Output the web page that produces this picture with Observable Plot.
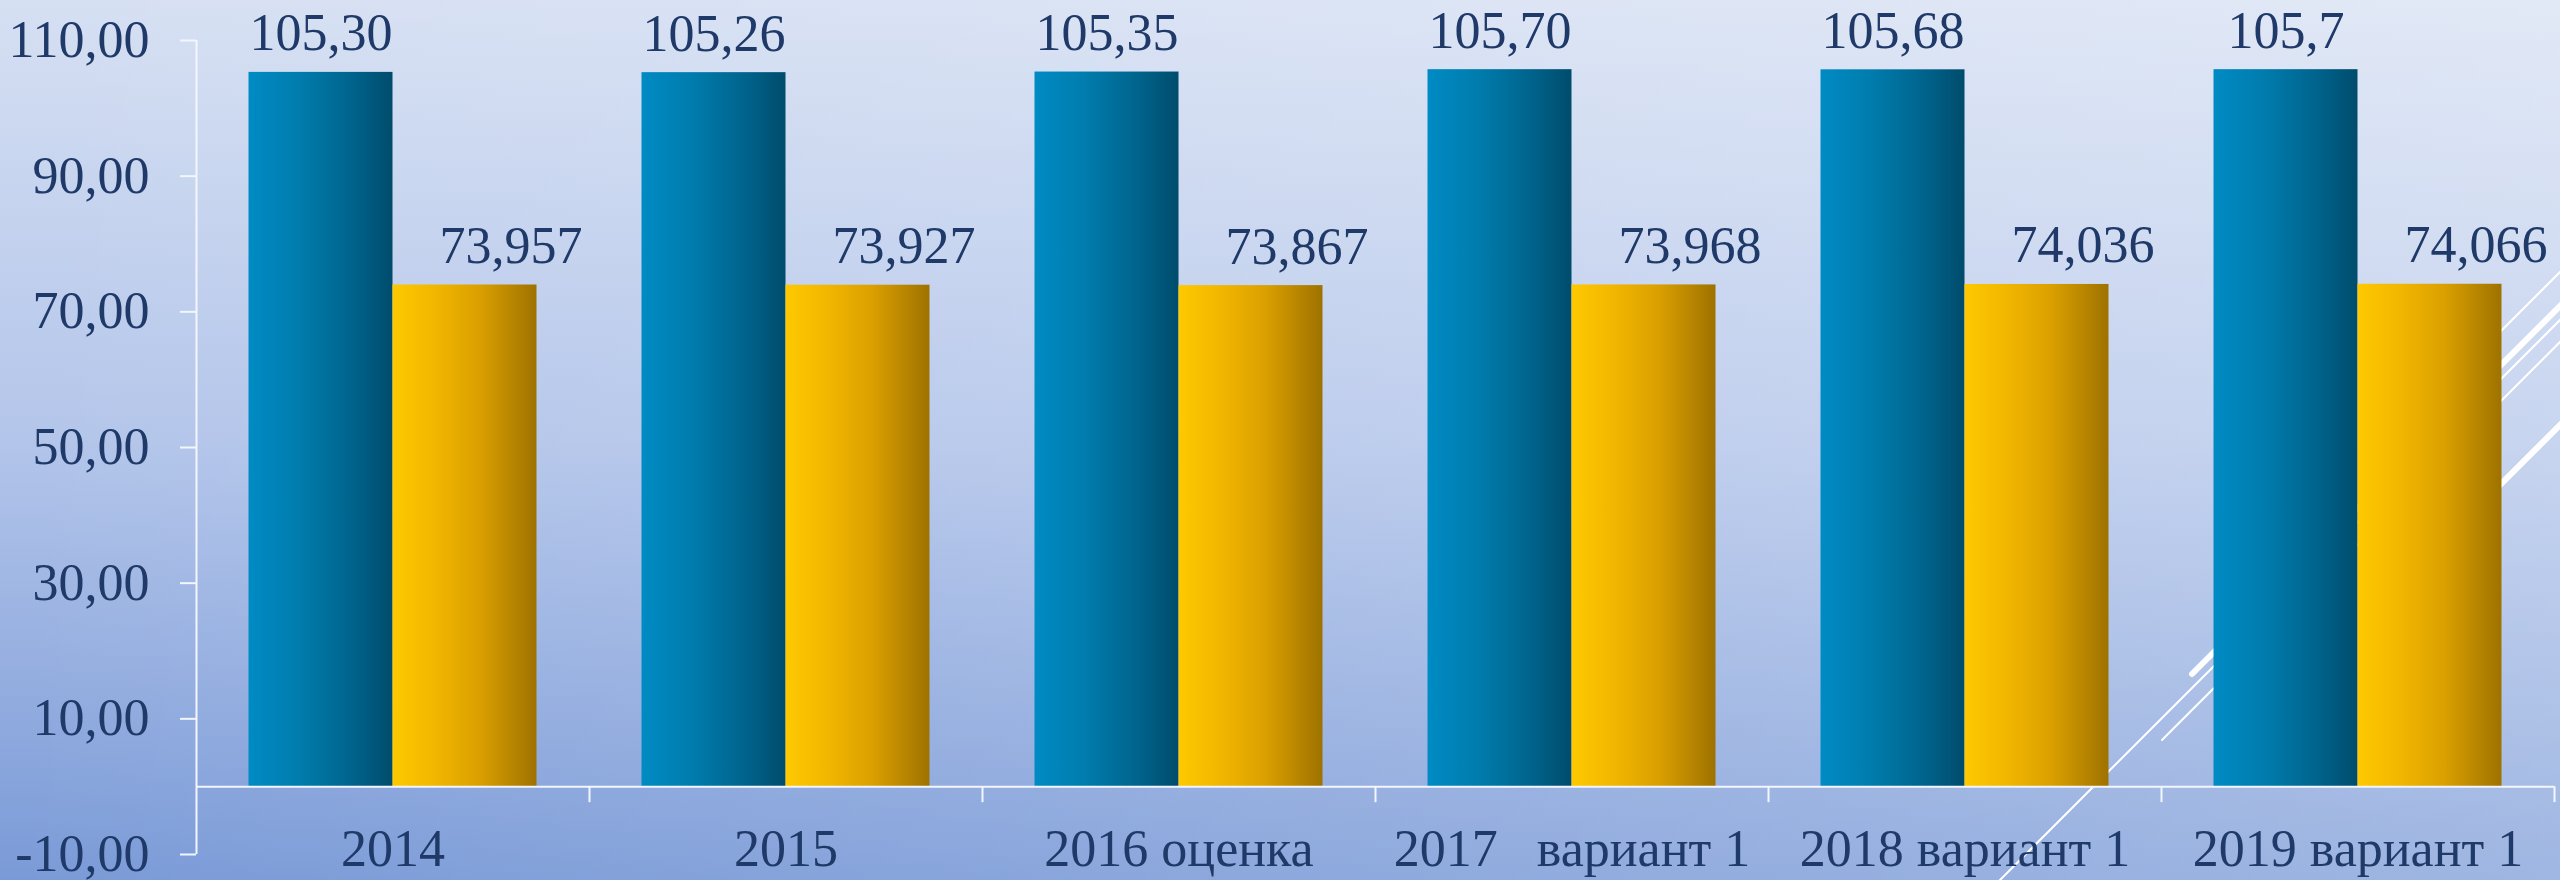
<!DOCTYPE html>
<html>
<head>
<meta charset="utf-8">
<script src="https://cdn.jsdelivr.net/npm/d3@7"></script>
<script src="https://cdn.jsdelivr.net/npm/@observablehq/plot@0.6"></script>
<style>
  html, body { margin: 0; padding: 0; background: #ffffff; }
  #wrap {
    position: relative; width: 2560px; height: 880px; overflow: hidden;
    background:
      linear-gradient(to right, rgba(255,255,255,0) 0%, rgba(255,255,255,0.28) 100%),
      linear-gradient(to bottom, #d6e0f3 0%, #b3c5ea 50%, #7a9ad7 100%);
  }
  #bg { position: absolute; left: 0; top: 0; }
  #chart { position: absolute; left: 0; top: 0; }
  #chart svg text { white-space: pre; }
</style>
</head>
<body>
<div id="wrap">
  <svg id="bg" width="2560" height="880">
    <defs>
      <linearGradient id="gBlue" x1="0" x2="1" y1="0" y2="0">
        <stop offset="0" stop-color="#008bc4"/>
        <stop offset="0.35" stop-color="#007cad"/>
        <stop offset="0.7" stop-color="#00658e"/>
        <stop offset="1" stop-color="#004c6c"/>
      </linearGradient>
      <linearGradient id="gYellow" x1="0" x2="1" y1="0" y2="0">
        <stop offset="0" stop-color="#fec900"/>
        <stop offset="0.3" stop-color="#f1b600"/>
        <stop offset="0.6" stop-color="#dba000"/>
        <stop offset="1" stop-color="#9e7200"/>
      </linearGradient>
    </defs>
    <g stroke="#ffffff" fill="none" stroke-linecap="round">
      <line x1="1990" y1="890" x2="2570" y2="310" stroke-width="2"/>
      <line x1="2162" y1="740" x2="2570" y2="332" stroke-width="2"/>
      <line x1="2192" y1="674" x2="2570" y2="296" stroke-width="6"/>
      <line x1="2380" y1="452" x2="2570" y2="262" stroke-width="2"/>
      <line x1="2400" y1="585" x2="2570" y2="415" stroke-width="6"/>
    </g>
  </svg>
  <div id="chart"></div>
</div>
<script>
// ---- data ----
const categories = ["2014", "2015", "2016 оценка", "2017   вариант 1", "2018 вариант 1", "2019 вариант 1"];
const seriesA = [105.30, 105.26, 105.35, 105.70, 105.68, 105.7];
const seriesALabels = ["105,30", "105,26", "105,35", "105,70", "105,68", "105,7"];
const seriesB = [73.957, 73.927, 73.867, 73.968, 74.036, 74.066];
const seriesBLabels = ["73,957", "73,927", "73,867", "73,968", "74,036", "74,066"];
const yTicks = [-10, 10, 30, 50, 70, 90, 110];

// ---- layout / style ----
const W = 2560, H = 880;
const mL = 196, mR = 6, mT = 40, mB = 26;
const step = (W - mL - mR) / categories.length;
const groupPad = step * 0.1336;
const barW = (step - 2 * groupPad) / 2;
const pxPerUnit = (H - mT - mB) / 120;
const navy = "#1f3a68";
const axisWhite = "#f3f6fc";
const font = "'Liberation Serif', 'Times New Roman', serif";

const dataA = categories.map((c, i) => ({cat: c, value: seriesA[i], label: seriesALabels[i]}));
const dataB = categories.map((c, i) => ({cat: c, value: seriesB[i], label: seriesBLabels[i]}));

const chart = Plot.plot({
  width: W,
  height: H,
  marginLeft: mL,
  marginRight: mR,
  marginTop: mT,
  marginBottom: mB,
  style: {background: "transparent", fontFamily: font, fontSize: "52px", color: navy, overflow: "visible"},
  x: {type: "band", domain: categories, padding: 0, axis: null},
  y: {domain: [-10, 110], axis: null},
  marks: [
    Plot.barY(dataA, {x: "cat", y: "value", fill: "url(#gBlue)", insetLeft: groupPad, insetRight: groupPad + barW}),
    Plot.barY(dataB, {x: "cat", y: "value", fill: "url(#gYellow)", insetLeft: groupPad + barW, insetRight: groupPad}),
    Plot.ruleY([0], {stroke: axisWhite, strokeWidth: 2}),
    Plot.ruleX([categories[0]], {x: d => d, y1: -10, y2: 110, dx: -step / 2, stroke: axisWhite, strokeWidth: 2}),
    Plot.ruleX(categories, {x: d => d, y1: 0, y2: -16 / pxPerUnit, dx: step / 2, stroke: axisWhite, strokeWidth: 2}),
    Plot.axisY({
      ticks: yTicks,
      tickSize: 16,
      tickPadding: 31,
      tickFormat: d => d.toFixed(2).replace(".", ","),
      stroke: axisWhite,
      strokeWidth: 2,
      fill: navy,
      fontSize: 52,
      label: null
    }),
    Plot.text(dataA, {x: "cat", y: "value", text: "label", dx: -barW / 2, dy: -22, lineAnchor: "bottom", fill: navy, fontSize: 52}),
    Plot.text(dataB, {x: "cat", y: "value", text: "label", dx: barW / 2 + 46, dy: -22, lineAnchor: "bottom", fill: navy, fontSize: 52}),
    Plot.text(categories, {x: d => d, text: d => d, frameAnchor: "bottom", lineAnchor: "middle", dy: -5, fill: navy, fontSize: 52})
  ]
});
document.getElementById("chart").appendChild(chart);
</script>
</body>
</html>
